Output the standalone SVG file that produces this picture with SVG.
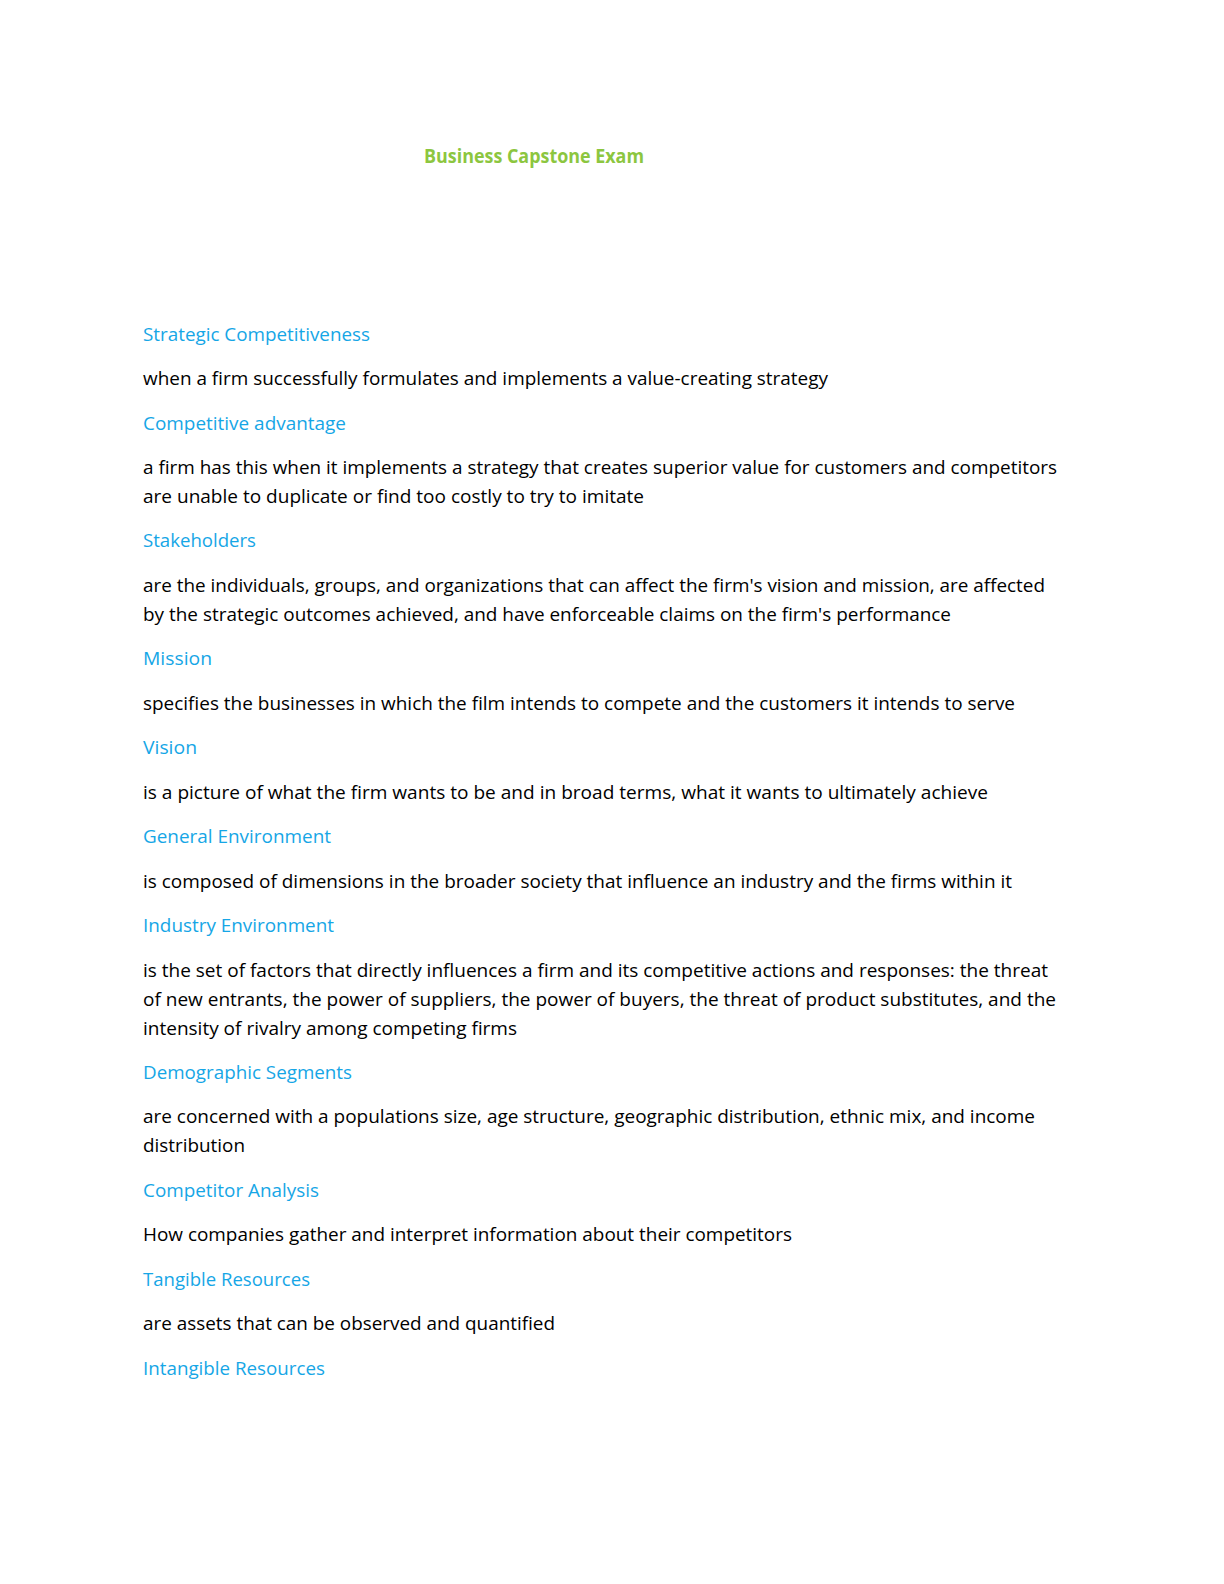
<svg xmlns="http://www.w3.org/2000/svg" width="1224" height="1584" viewBox="0 0 1224 1584">
<style>
text{font-family:"Open Sans","Liberation Sans",sans-serif;font-size:19px;fill:#000}
.h{fill:#16a6e6}
.t{fill:#8cc63f;font-weight:bold}
</style>
<rect width="1224" height="1584" fill="#fff"/>
<text class="t" x="424" y="163" textLength="220" lengthAdjust="spacingAndGlyphs">Business Capstone Exam</text>
<g lengthAdjust="spacingAndGlyphs">
<text class="h" x="143" y="341" textLength="227" lengthAdjust="spacingAndGlyphs">Strategic Competitiveness</text>
<text x="143" y="385" textLength="685" lengthAdjust="spacingAndGlyphs">when a firm successfully formulates and implements a value-creating strategy</text>
<text class="h" x="143" y="430" textLength="203" lengthAdjust="spacingAndGlyphs">Competitive advantage</text>
<text x="143" y="474" textLength="914" lengthAdjust="spacingAndGlyphs">a firm has this when it implements a strategy that creates superior value for customers and competitors</text>
<text x="143" y="503" textLength="501" lengthAdjust="spacingAndGlyphs">are unable to duplicate or find too costly to try to imitate</text>
<text class="h" x="143" y="547" textLength="113" lengthAdjust="spacingAndGlyphs">Stakeholders</text>
<text x="143" y="592" textLength="902" lengthAdjust="spacingAndGlyphs">are the individuals, groups, and organizations that can affect the firm's vision and mission, are affected</text>
<text x="143" y="621" textLength="808" lengthAdjust="spacingAndGlyphs">by the strategic outcomes achieved, and have enforceable claims on the firm's performance</text>
<text class="h" x="143" y="665" textLength="69" lengthAdjust="spacingAndGlyphs">Mission</text>
<text x="143" y="710" textLength="872" lengthAdjust="spacingAndGlyphs">specifies the businesses in which the film intends to compete and the customers it intends to serve</text>
<text class="h" x="143" y="754" textLength="54" lengthAdjust="spacingAndGlyphs">Vision</text>
<text x="143" y="799" textLength="845" lengthAdjust="spacingAndGlyphs">is a picture of what the firm wants to be and in broad terms, what it wants to ultimately achieve</text>
<text class="h" x="143" y="843" textLength="188" lengthAdjust="spacingAndGlyphs">General Environment</text>
<text x="143" y="888" textLength="869" lengthAdjust="spacingAndGlyphs">is composed of dimensions in the broader society that influence an industry and the firms within it</text>
<text class="h" x="143" y="932" textLength="191" lengthAdjust="spacingAndGlyphs">Industry Environment</text>
<text x="143" y="977" textLength="905" lengthAdjust="spacingAndGlyphs">is the set of factors that directly influences a firm and its competitive actions and responses: the threat</text>
<text x="143" y="1006" textLength="913" lengthAdjust="spacingAndGlyphs">of new entrants, the power of suppliers, the power of buyers, the threat of product substitutes, and the</text>
<text x="143" y="1035" textLength="374" lengthAdjust="spacingAndGlyphs">intensity of rivalry among competing firms</text>
<text class="h" x="143" y="1079" textLength="209" lengthAdjust="spacingAndGlyphs">Demographic Segments</text>
<text x="143" y="1123" textLength="892" lengthAdjust="spacingAndGlyphs">are concerned with a populations size, age structure, geographic distribution, ethnic mix, and income</text>
<text x="143" y="1152" textLength="102" lengthAdjust="spacingAndGlyphs">distribution</text>
<text class="h" x="143" y="1197" textLength="176" lengthAdjust="spacingAndGlyphs">Competitor Analysis</text>
<text x="143" y="1241" textLength="649" lengthAdjust="spacingAndGlyphs">How companies gather and interpret information about their competitors</text>
<text class="h" x="143" y="1286" textLength="167" lengthAdjust="spacingAndGlyphs">Tangible Resources</text>
<text x="143" y="1330" textLength="412" lengthAdjust="spacingAndGlyphs">are assets that can be observed and quantified</text>
<text class="h" x="143" y="1375" textLength="182" lengthAdjust="spacingAndGlyphs">Intangible Resources</text>
</g>
</svg>
